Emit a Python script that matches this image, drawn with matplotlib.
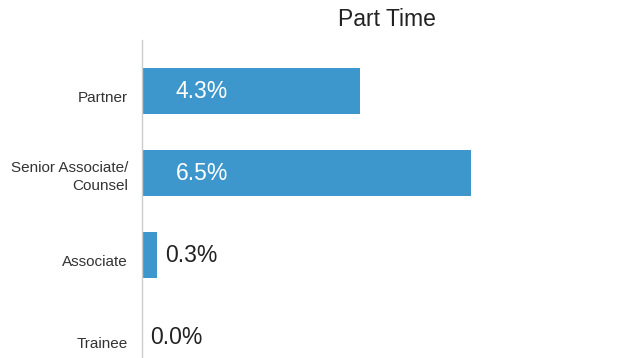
import matplotlib.pyplot as plt
from matplotlib.transforms import offset_copy, ScaledTranslation

categories = ["Partner", "Senior Associate/\nCounsel", "Associate", "Trainee"]
values = [4.3, 6.5, 0.3, 0.0]

plt.rcParams['font.family'] = ['Liberation Sans', 'DejaVu Sans']

fig = plt.figure(figsize=(6.29, 3.58), dpi=100)
ax = fig.add_axes([142 / 629, 0, 487 / 629, 318 / 358])

pos = list(range(len(categories)))
ax.barh(pos, values, height=0.55, color="#3d97cc")

ax.set_xlim(0, 487 / 50.6)
ax.set_ylim(3.256, -0.622)

ax.set_yticks(pos)
ax.set_yticklabels(categories, fontsize=11, color="#333333", linespacing=1.45)
ax.tick_params(axis="y", length=0, pad=10)
ax.set_xticks([])

# one-line labels sit a little below the bar centre
for lbl in ax.get_yticklabels():
    if "\n" not in lbl.get_text():
        lbl.set_transform(lbl.get_transform() +
                          ScaledTranslation(0, -4 / 72, fig.dpi_scale_trans))

for s in ["top", "right", "bottom"]:
    ax.spines[s].set_visible(False)
ax.spines["left"].set_color("#cccccc")
ax.spines["left"].set_linewidth(1)

# big bars get the label inside, small ones just past the end
for p, v in zip(pos, values):
    if v > 1:
        tr = offset_copy(ax.transData, fig=fig, x=34, y=0, units="dots")
        ax.text(0, p, f"{v:.1f}%", transform=tr, color="white",
                fontsize=16.5, va="center", ha="left")
    else:
        tr = offset_copy(ax.transData, fig=fig, x=8, y=0, units="dots")
        ax.text(v, p, f"{v:.1f}%", transform=tr, color="#222222",
                fontsize=16.5, va="center", ha="left")

fig.text((142 + 245) / 629, 1 - 19 / 358, "Part Time", fontsize=16.5,
         color="#222222", ha="center", va="center")

fig.savefig("out.png", dpi=100)
